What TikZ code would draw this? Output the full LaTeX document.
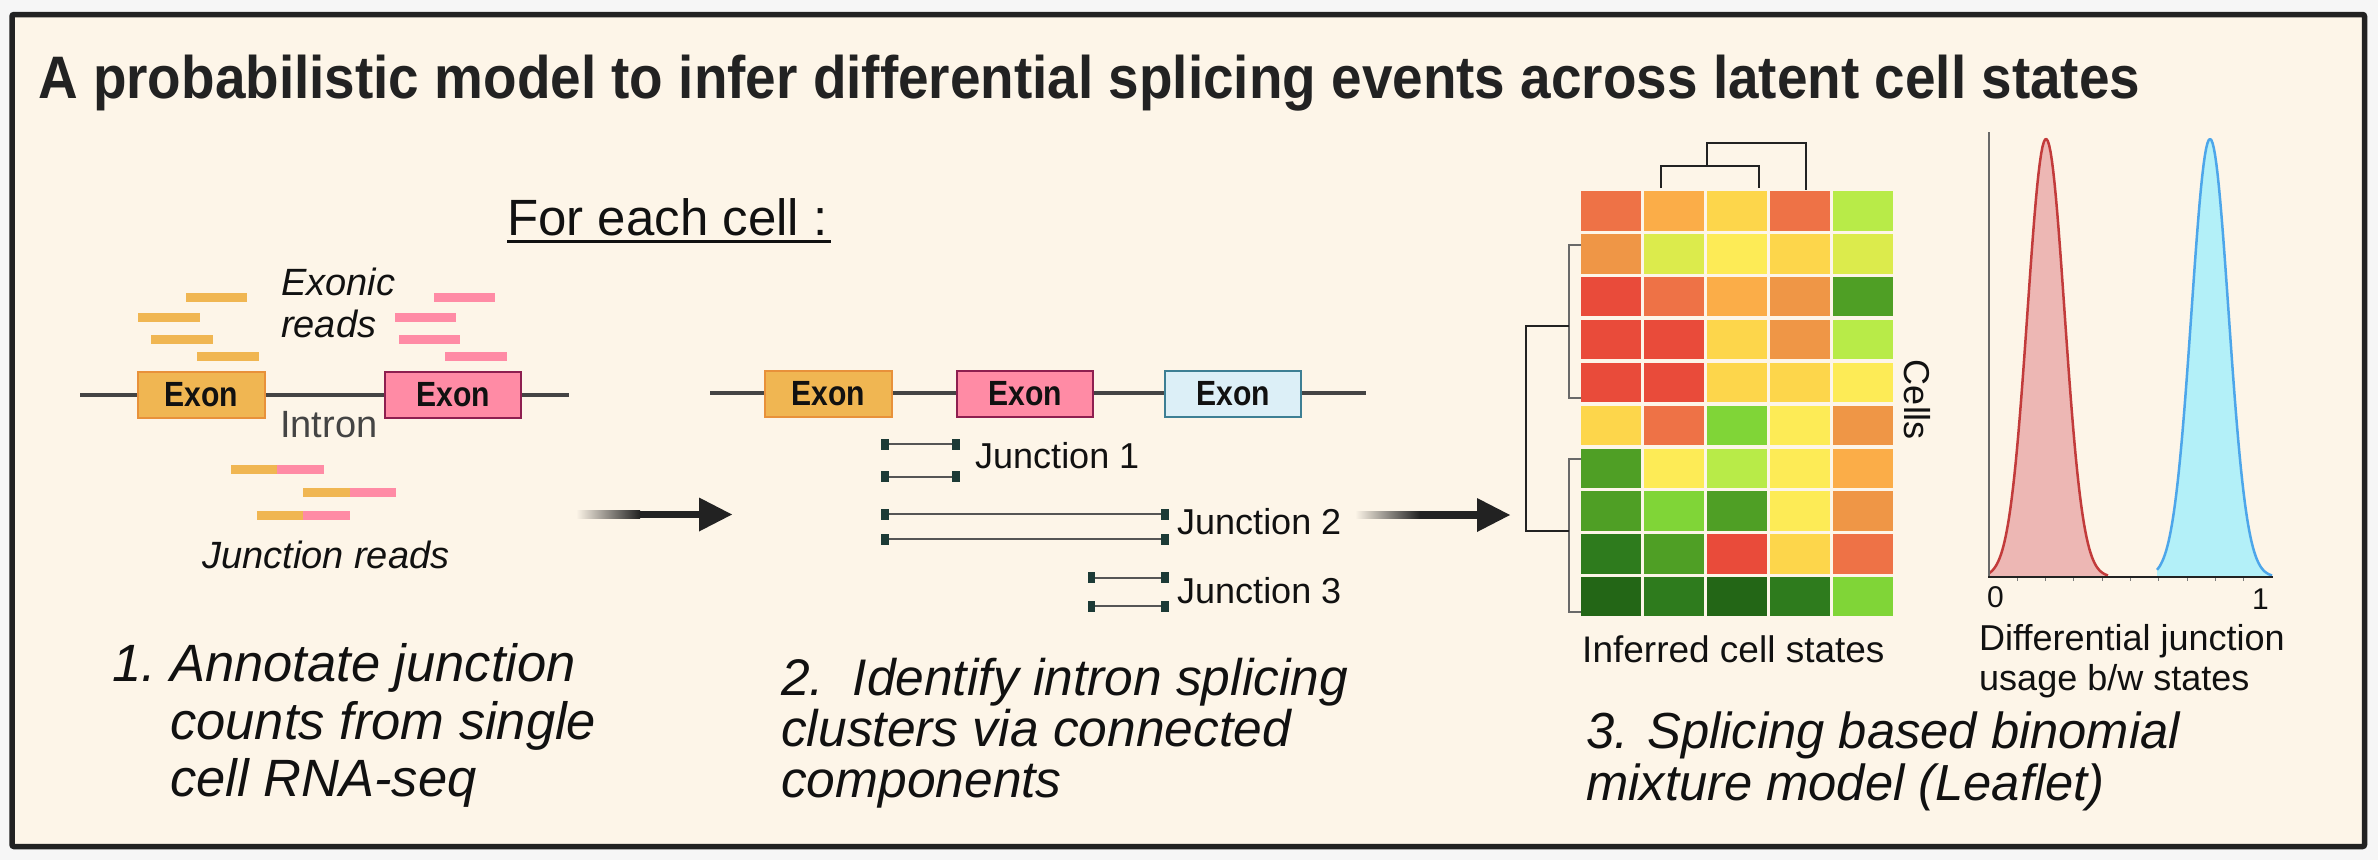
\documentclass[tikz,border=0pt]{standalone}
\usepackage{fontspec}
\setmainfont{Liberation Sans}
\usetikzlibrary{calc}
\definecolor{bg}{HTML}{FDF5E8}
\definecolor{outbg}{HTML}{F6F6F6}
\definecolor{frame}{HTML}{222222}
\definecolor{txt}{HTML}{111111}
\definecolor{gene}{HTML}{444444}
\definecolor{orfill}{HTML}{F0B652}
\definecolor{ordraw}{HTML}{E8913A}
\definecolor{pkfill}{HTML}{FF8BA5}
\definecolor{pkdraw}{HTML}{8E1F50}
\definecolor{blfill}{HTML}{DCEFF7}
\definecolor{bldraw}{HTML}{3D7F94}
\definecolor{capcol}{HTML}{1C3A36}
\definecolor{jl}{HTML}{555555}
\definecolor{arrowc}{HTML}{222222}
\definecolor{R}{HTML}{E94B3A}
\definecolor{O1}{HTML}{EE7246}
\definecolor{O2}{HTML}{EF9646}
\definecolor{O3}{HTML}{FBAD48}
\definecolor{Y1}{HTML}{FDD64B}
\definecolor{Y2}{HTML}{FDEB56}
\definecolor{L1}{HTML}{DCEB4C}
\definecolor{L2}{HTML}{B8EB48}
\definecolor{G1}{HTML}{80D537}
\definecolor{G2}{HTML}{4F9F25}
\definecolor{G3}{HTML}{2E7B1D}
\definecolor{G4}{HTML}{236616}
\definecolor{redfill}{HTML}{EDB7B4}
\definecolor{redline}{HTML}{C23B3B}
\definecolor{bluefill}{HTML}{B3F0F8}
\definecolor{blueline}{HTML}{4DA6EA}
\newcommand\jcap[2]{\fill[capcol] ({#1-3.7},{#2-5.5}) rectangle ({#1+3.7},{#2+5.5});}
\begin{document}
\begin{tikzpicture}[x=1pt,y=-1pt,
  lbl/.style={anchor=base west, inner sep=0, text=txt},
  bigit/.style={lbl, font=\fontsize{51.5}{60}\selectfont\itshape},
  midtxt/.style={lbl, font=\fontsize{36}{43}\selectfont},
  exonbox/.style={draw, line width=2.2, minimum width=127, minimum height=46, inner sep=0,
     font=\fontsize{35}{40}\selectfont\bfseries, text=txt},
  geneline/.style={gene, line width=4},
  jline/.style={jl, line width=2},
  dend/.style={line width=2, draw=frame},
  dendg/.style={line width=2, draw=gene!80}
]
\useasboundingbox (0,0) rectangle (2378,860);
\fill[outbg] (0,0) rectangle (2378,860);
\draw[line width=5.5, draw=frame, fill=bg, rounded corners=2] (12,14.5) rectangle (2364.5,846.5);

% Title
\node[lbl, text=frame, font=\fontsize{60}{72}\selectfont\bfseries] (title) at (38,98)
  {\scalebox{0.915}[1]{A probabilistic model to infer differential splicing events across latent cell states}};

% For each cell
\node[lbl, font=\fontsize{51}{60}\selectfont] (fe) at (507,235) {For each cell :};
\draw[line width=3, txt] ($(fe.base west)+(0,6)$) -- ($(fe.base east)+(3,6)$);

% ---------- Section 1 ----------
\fill[orfill] (186,293) rectangle (247,302);
\fill[orfill] (138,313) rectangle (200,321.5);
\fill[orfill] (151,335) rectangle (213,344);
\fill[orfill] (197,352) rectangle (259,360.5);
\fill[pkfill] (434,293) rectangle (495,302);
\fill[pkfill] (395,313) rectangle (456,321.5);
\fill[pkfill] (399,335) rectangle (460,344);
\fill[pkfill] (445,352) rectangle (507,360.5);

\node[lbl, font=\fontsize{38}{42}\selectfont\itshape] (exr1) at (281,295) {Exonic};
\node[lbl, font=\fontsize{38}{42}\selectfont\itshape] (exr2) at (281,337) {reads};

\draw[geneline] (80,395) -- (569,395);
\node[exonbox, fill=orfill, draw=ordraw] (ea) at (201.5,395) {\scalebox{0.86}[1]{Exon}};
\node[exonbox, fill=pkfill, draw=pkdraw, minimum width=136] (eb) at (453,395) {\scalebox{0.86}[1]{Exon}};
\node[lbl, text=gene, font=\fontsize{38}{42}\selectfont] (intron) at (280,437) {Intron};

\fill[orfill] (231,465) rectangle (277,474);
\fill[pkfill] (277,465) rectangle (324,474);
\fill[orfill] (303,488) rectangle (350,497);
\fill[pkfill] (350,488) rectangle (396,497);
\fill[orfill] (257,511) rectangle (303,520);
\fill[pkfill] (303,511) rectangle (350,520);
\node[lbl, font=\fontsize{38}{42}\selectfont\itshape] (jr) at (202,568) {Junction reads};

% arrow 1
\coordinate (a1s) at (576,514.5);
\coordinate (a1m) at (640,514.5);
\coordinate (a1h) at (699,514.5);
\coordinate (a1t) at (732,514.5);
\shade[left color=bg, right color=arrowc] ($(a1s)+(0,-3.6)$) rectangle ($(a1m)+(0,3.6)$);
\fill[arrowc] ($(a1m)+(-0.5,-3.6)$) rectangle ($(a1h)+(1,3.6)$);
\fill[arrowc] ($(a1h)+(0,-17)$) -- (a1t) -- ($(a1h)+(0,17)$) -- cycle;

% ---------- Section 2 ----------
\draw[geneline] (710,393) -- (1366,393);
\node[exonbox, fill=orfill, draw=ordraw] (e1) at (828.5,394) {\scalebox{0.86}[1]{Exon}};
\node[exonbox, fill=pkfill, draw=pkdraw, minimum width=136] (e2) at (1025,394) {\scalebox{0.86}[1]{Exon}};
\node[exonbox, fill=blfill, draw=bldraw, minimum width=136] (e3) at (1233,394) {\scalebox{0.86}[1]{Exon}};

\draw[jline] (885,444) -- (956,444);
\draw[jline] (885,476.5) -- (956,476.5);
\jcap{885}{444}\jcap{956}{444}\jcap{885}{476.5}\jcap{956}{476.5}
\node[midtxt] (j1) at (975,468) {Junction 1};
\draw[jline] (885,514.3) -- (1165,514.3);
\draw[jline] (885,539.3) -- (1165,539.3);
\jcap{885}{514.3}\jcap{1165}{514.3}\jcap{885}{539.3}\jcap{1165}{539.3}
\node[midtxt] (j2) at (1177,534) {Junction 2};
\draw[jline] (1091.5,577.7) -- (1165,577.7);
\draw[jline] (1091.5,606) -- (1165,606);
\jcap{1091.5}{577.7}\jcap{1165}{577.7}\jcap{1091.5}{606}\jcap{1165}{606}
\node[midtxt] (j3) at (1177,603) {Junction 3};

% arrow 2
\coordinate (a2s) at (1355,515);
\coordinate (a2m) at (1420,515);
\coordinate (a2h) at (1477,515);
\coordinate (a2t) at (1510,515);
\shade[left color=bg, right color=arrowc] ($(a2s)+(0,-3.6)$) rectangle ($(a2m)+(0,3.6)$);
\fill[arrowc] ($(a2m)+(-0.5,-3.6)$) rectangle ($(a2h)+(1,3.6)$);
\fill[arrowc] ($(a2h)+(0,-17)$) -- (a2t) -- ($(a2h)+(0,17)$) -- cycle;

% ---------- Section 3: heatmap ----------
\foreach \row [count=\r] in {{O1,O3,Y1,O1,L2},{O2,L1,Y2,Y1,L1},{R,O1,O3,O2,G2},{R,R,Y1,O2,L2},{R,R,Y1,Y1,Y2},{Y1,O1,G1,Y2,O2},{G2,Y2,L2,Y2,O3},{G2,G1,G2,Y2,O2},{G3,G2,R,Y1,O1},{G4,G3,G4,G3,G1}}{
  \foreach \c [count=\k] in \row {
    \fill[\c] ({1581+(\k-1)*63},{191.4+(\r-1)*42.85}) rectangle ++(60,39.3);
  }
}
\draw[dend] (1661,188) -- (1661,166.4) -- (1759,166.4) -- (1759,188);
\draw[dend] (1707,166.4) -- (1707,143) -- (1806,143) -- (1806,190);
\draw[dendg] (1581,245) -- (1569,245) -- (1569,397.5) -- (1581,397.5);
\draw[dendg] (1581,459) -- (1569,459) -- (1569,612) -- (1581,612);
\draw[dend] (1569,326) -- (1526,326) -- (1526,531) -- (1569,531);

\node[inner sep=0, text=txt, font=\fontsize{36}{43}\selectfont] (cells) at (1917,400) {\rotatebox{-90}{Cells}};
\node[midtxt, font=\fontsize{37}{43}\selectfont] (ics) at (1582,662) {Inferred cell states};

% distributions
\fill[redfill] plot[domain=1989:2108, samples=90] (\x,{577-438*exp(-((\x-2046)^2)/684.5)}) -- (2108,577) -- (1989,577) -- cycle;
\draw[redline, line width=2.5, line join=round] plot[domain=1989:2108, samples=90] (\x,{577-438*exp(-((\x-2046)^2)/684.5)});
\fill[bluefill] plot[domain=2157:2272, samples=90] (\x,{577-438*exp(-((\x-2210)^2)/684.5)}) -- (2272,577) -- (2157,577) -- cycle;
\draw[blueline, line width=2.5, line join=round] plot[domain=2157:2272, samples=90] (\x,{577-438*exp(-((\x-2210)^2)/684.5)});
\draw[gene!80, line width=1.5] (1989,132) -- (1989,578);
\draw[frame, line width=2.5] (1988,577) -- (2273,577);
\foreach \i in {1,...,9} { \draw[gene!70, line width=1] ({1989+\i*28.3},578) -- ({1989+\i*28.3},581); }
\node[lbl, font=\fontsize{30}{36}\selectfont] (zero) at (1987,607) {0};
\node[lbl, font=\fontsize{30}{36}\selectfont] (one) at (2252,609) {1};
\node[midtxt] (dj1) at (1979,650) {Differential junction};
\node[midtxt] (dj2) at (1979,690) {usage b/w states};

% ---------- bottom captions ----------
\node[bigit, font=\fontsize{52.5}{60}\selectfont\itshape] (s1n) at (112,681) {1.};
\node[bigit, font=\fontsize{52.5}{60}\selectfont\itshape] (s1a) at (170,681) {Annotate junction};
\node[bigit, font=\fontsize{52.5}{60}\selectfont\itshape] (s1b) at (170,739) {counts from single};
\node[bigit, font=\fontsize{52.5}{60}\selectfont\itshape] (s1c) at (170,796) {cell RNA-seq};
\node[bigit, font=\fontsize{51.5}{60}\selectfont\itshape] (s2a) at (781,695) {2.\ \ Identify intron splicing};
\node[bigit, font=\fontsize{51.5}{60}\selectfont\itshape] (s2b) at (781,746) {clusters via connected};
\node[bigit, font=\fontsize{51.5}{60}\selectfont\itshape] (s2c) at (781,797) {components};
\node[bigit, font=\fontsize{50.7}{60}\selectfont\itshape] (s3a) at (1586,748) {3. Splicing based binomial};
\node[bigit, font=\fontsize{50.7}{60}\selectfont\itshape] (s3b) at (1586,800) {mixture model (Leaflet)};
\end{tikzpicture}
\end{document}
